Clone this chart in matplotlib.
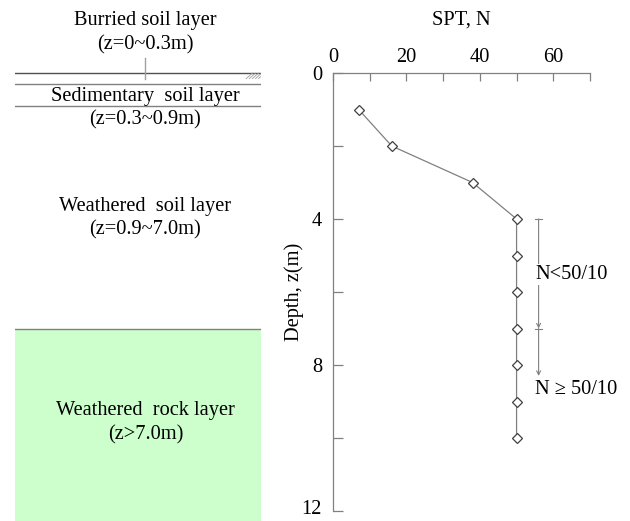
import numpy as np
import matplotlib
matplotlib.use('Agg')
import matplotlib.pyplot as plt
import matplotlib.transforms as mtrans

plt.rcParams['font.family'] = ['Liberation Serif', 'DejaVu Serif']
plt.rcParams['font.size'] = 14.7

# SPT blow counts versus depth
depth = [1, 2, 3, 4, 5, 6, 7, 8, 9, 10]
spt_n = [7, 16, 38, 50, 50, 50, 50, 50, 50, 50]

# Soil layer boundaries (m)
ground = 0.0
sed_top = 0.3
sed_bottom = 0.9
rock_top = 7.0

x_ticks = [0, 10, 20, 30, 40, 50, 60, 70]
x_labels = ['0', '', '20', '', '40', '', '60', '']
y_ticks = [0, 2, 4, 6, 8, 10, 12]
y_labels = ['0', '', '4', '', '8', '', '12']

W, H = 630, 521
fig = plt.figure(figsize=(W / 100, H / 100), dpi=100)

grey = '#808080'
dark = '#505050'

# ---- SPT profile ----
ax = fig.add_axes([333 / W, 10 / H, (590 - 333) / W, (511 - 73) / H])
ax.plot(spt_n, depth, color=grey, lw=0.9, marker='D', ms=5.5,
        mfc='white', mec='#404040', mew=0.9)
ax.set_xlim(0, 70)
ax.set_ylim(12, 0)
ax.xaxis.tick_top()
ax.xaxis.set_label_position('top')
ax.set_xticks(x_ticks)
ax.set_xticklabels(x_labels)
ax.set_yticks(y_ticks)
ax.set_yticklabels(y_labels)
ax.tick_params(axis='x', direction='in', length=6, width=0.9, color=grey, pad=4)
ax.tick_params(axis='y', direction='in', length=7, width=0.9, color=grey, pad=8)
for s in ['right', 'bottom']:
    ax.spines[s].set_visible(False)
for s in ['left', 'top']:
    ax.spines[s].set_color(grey)
    ax.spines[s].set_linewidth(0.9)
ax.set_xlabel('SPT, N', labelpad=17)
ax.set_ylabel('Depth, z(m)', labelpad=-2)

# keep the bottom "12" inside the figure
lab12 = ax.get_yticklabels()[-1]
lab12.set_transform(lab12.get_transform() +
                    mtrans.ScaledTranslation(0, 3 / 72, fig.dpi_scale_trans))

# range annotations
xa = 56
ax.plot([xa - 1, xa + 1], [4, 4], color=grey, lw=0.8)
ax.plot([xa - 1, xa + 1], [7, 7], color=grey, lw=0.8)
ax.annotate('', xy=(xa, 7), xytext=(xa, 4),
            arrowprops=dict(arrowstyle='->', color=grey, lw=0.8,
                            shrinkA=0, shrinkB=0, mutation_scale=7))
ax.annotate('', xy=(xa, 8.3), xytext=(xa, 7),
            arrowprops=dict(arrowstyle='->', color=grey, lw=0.8,
                            shrinkA=0, shrinkB=0, mutation_scale=7))
ax.text(55.2, 5.52, 'N<50/10', ha='left', va='center',
        bbox=dict(fc='white', ec='none', pad=1))
ax.text(55.0, 8.67, 'N \u2265 50/10', ha='left', va='center')

# ---- soil layers ----
lx = fig.add_axes([15 / W, 0, (261 - 15) / W, 1])
lx.set_xlim(0, 1)
lx.set_ylim(12.25, -2.0)
lx.axis('off')

lx.axhline(ground, color=dark, lw=1.0)
lx.axhline(sed_top, color=grey, lw=1.0)
lx.axhline(sed_bottom, color=grey, lw=1.0)
lx.plot([0.53, 0.53], [-0.4, 0.15], color='#a0a0a0', lw=1.0)
for xh in np.linspace(0.94, 0.99, 5):
    lx.plot([xh, xh + 0.025], [0.15, 0.0], color='#a0a0a0', lw=0.6)
lx.fill_between([0, 1], rock_top, 12.25, color='#ccffcc', lw=0)
lx.axhline(rock_top, color=grey, lw=1.0)

lx.text(0.53, -1.45, 'Burried soil layer', ha='center', va='center')
lx.text(0.53, -0.77, '(z=0~0.3m)', ha='center', va='center')
lx.text(0.53, 0.65, 'Sedimentary  soil layer', ha='center', va='center')
lx.text(0.53, 1.28, '(z=0.3~0.9m)', ha='center', va='center')
lx.text(0.53, 3.66, 'Weathered  soil layer', ha='center', va='center')
lx.text(0.53, 4.29, '(z=0.9~7.0m)', ha='center', va='center')
lx.text(0.53, 9.22, 'Weathered  rock layer', ha='center', va='center')
lx.text(0.53, 9.9, '(z>7.0m)', ha='center', va='center')

fig.savefig('out.png', dpi=100)
